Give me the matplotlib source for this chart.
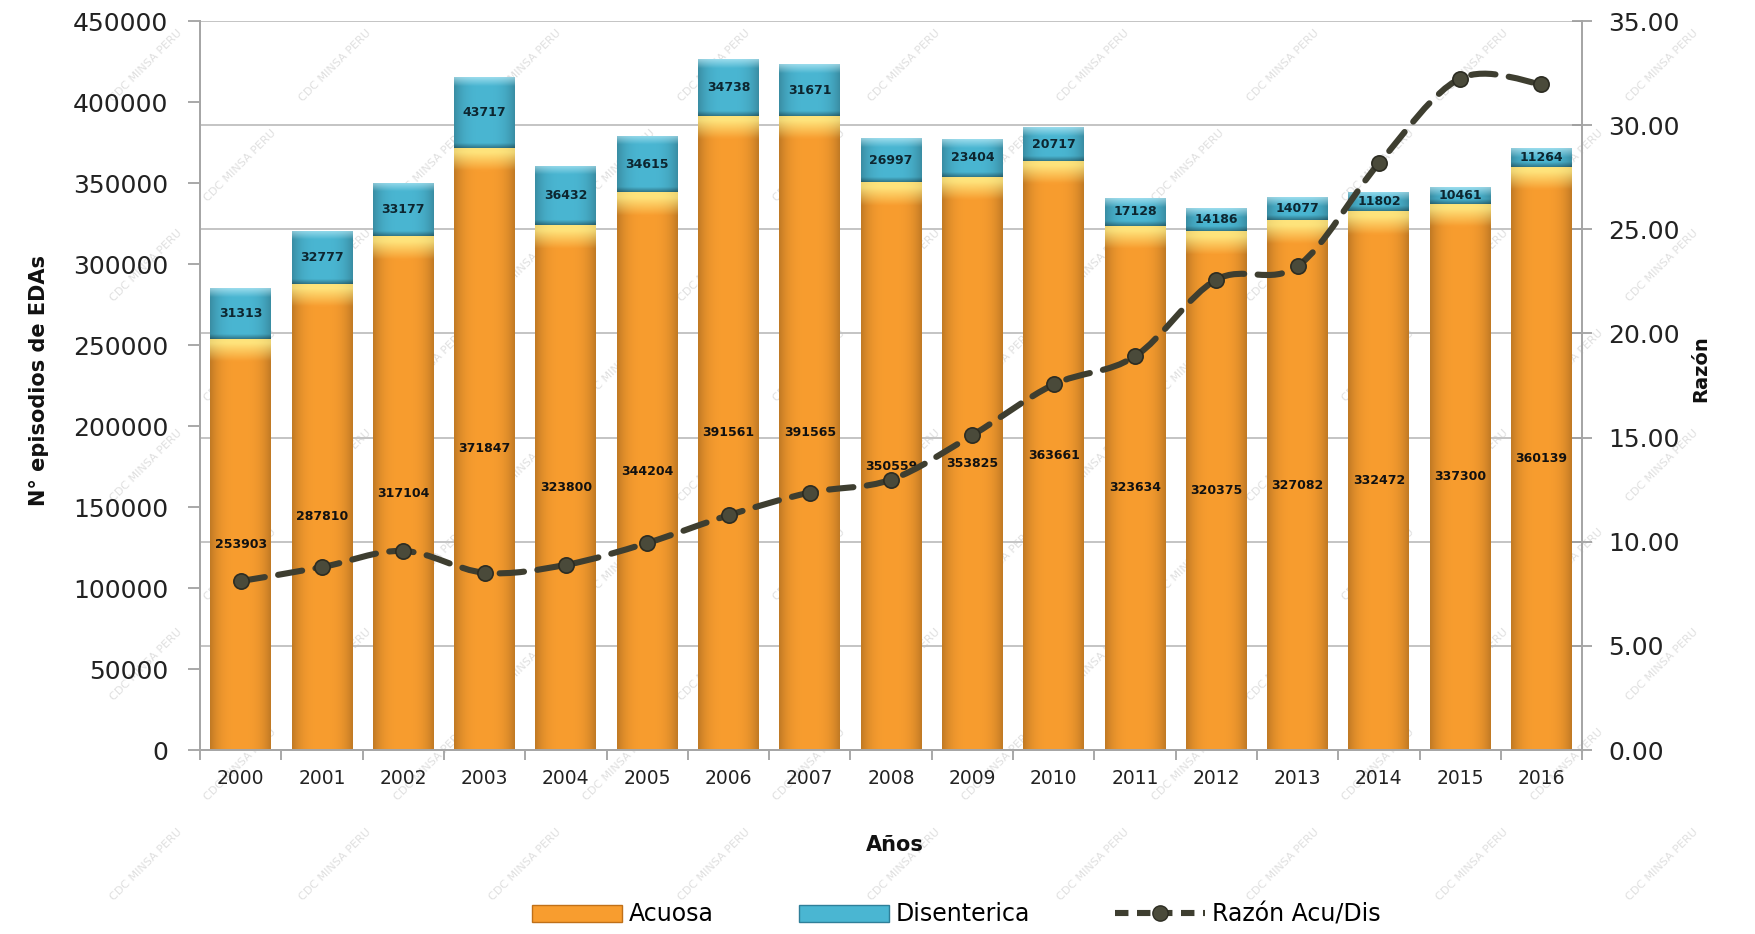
import numpy as np
import matplotlib
matplotlib.use("Agg")
import matplotlib.pyplot as plt
from matplotlib.path import Path
from matplotlib.patches import PathPatch, Patch
from matplotlib.lines import Line2D
from matplotlib.colors import to_rgb

# ---- data ----
years = ["2000", "2001", "2002", "2003", "2004", "2005", "2006", "2007", "2008",
         "2009", "2010", "2011", "2012", "2013", "2014", "2015", "2016"]
acuosa = [253903, 287810, 317104, 371847, 323800, 344204, 391561, 391565, 350559,
          353825, 363661, 323634, 320375, 327082, 332472, 337300, 360139]
disenterica = [31313, 32777, 33177, 43717, 36432, 34615, 34738, 31671, 26997,
               23404, 20717, 17128, 14186, 14077, 11802, 10461, 11264]
razon = [8.11, 8.78, 9.56, 8.51, 8.89, 9.94, 11.27, 12.36, 12.98,
         15.12, 17.55, 18.90, 22.58, 23.23, 28.17, 32.24, 31.97]
left_ticks = list(range(0, 450001, 50000))
right_ticks = [0, 5, 10, 15, 20, 25, 30, 35]

ORANGE = "#F89D2F"
YELLOW = "#FFE47C"
BLUE = "#4AB6D2"
LINE = "#3E3E30"

plt.rcParams["font.family"] = ["DejaVu Sans"]

fig = plt.figure(figsize=(17.55, 9.34), dpi=100)
ax = fig.add_axes([0.114, 0.197, 0.7875, 0.7805])
ax2 = ax.twinx()
ax.set_zorder(1)
ax2.set_zorder(2)
ax.patch.set_visible(False)
ax2.patch.set_visible(False)

x = np.arange(len(years))
width = 0.75

ax.set_xlim(-0.5, len(years) - 0.5)
ax.set_ylim(0, 450000)

bars_a = ax.bar(x, acuosa, width, color=ORANGE, linewidth=0, zorder=3)
bars_d = ax.bar(x, disenterica, width, bottom=acuosa, color=BLUE, linewidth=0, zorder=3)


def shade_bar(patch, base, top_color=None, top_px=14, highlight=None):
    """Overlay a glossy gradient on a bar, clipped to the bar rectangle."""
    x0, y0 = patch.get_x(), patch.get_y()
    w, h = patch.get_width(), patch.get_height()
    nx, ny = 60, 300
    u = np.linspace(-1, 1, nx)
    side = 1.0 - 0.22 * np.abs(u) ** 3
    b = np.array(to_rgb(base))
    img = np.ones((ny, nx, 3)) * b
    img = img * side[None, :, None]
    p0 = ax.transData.transform((x0, y0))
    p1 = ax.transData.transform((x0, y0 + h))
    hpx = max(abs(p1[1] - p0[1]), 1.0)
    rows = np.linspace(1, 0, ny)  # row 0 at top
    dist_px = (1 - rows) * hpx
    if top_color is not None:
        t = np.clip(1.25 - dist_px / top_px, 0, 1)[:, None, None]
        tc = np.array(to_rgb(top_color))
        img = img * (1 - t) + tc * t * side[None, :, None] ** 0.3
    if highlight is not None:
        t = np.clip(1 - dist_px / 9.0, 0, 1)[:, None, None] * 0.6
        hc = np.array(to_rgb(highlight))
        img = img * (1 - t) + hc * t
        tb = np.clip(1 - (hpx - dist_px) / 5.0, 0, 1)[:, None, None] * 0.35
        img = img * (1 - tb)
    im = ax.imshow(np.clip(img, 0, 1), extent=(x0, x0 + w, y0, y0 + h),
                   aspect="auto", zorder=3.5, interpolation="bilinear")
    im.set_clip_path(patch)


for p in bars_a:
    shade_bar(p, ORANGE, top_color=YELLOW, top_px=18)
for p in bars_d:
    shade_bar(p, BLUE, highlight="#D2F6FF")

# data labels
for xi, a, d in zip(x, acuosa, disenterica):
    ax.text(xi, a / 2, f"{a}", ha="center", va="center", fontsize=9,
            fontweight="bold", color="#111111", zorder=6)
    ax.text(xi, a + d / 2, f"{d}", ha="center", va="center", fontsize=9,
            fontweight="bold", color="#0d2630", zorder=6)

ax.set_yticks(left_ticks)
ax.set_yticklabels([str(v) for v in left_ticks])
ax.set_xticks(x)
ax.set_xticklabels(years)
ax.set_xticks(np.arange(-0.5, len(years), 1.0), minor=True)
ax.tick_params(axis="x", which="major", length=0, pad=14, labelsize=13.5, colors="#222222")
ax.tick_params(axis="x", which="minor", length=7, width=1.2, color="#9a9a9a")
ax.tick_params(axis="y", length=9, width=1.2, color="#9a9a9a", pad=14,
               labelsize=18, labelcolor="#222222")

# ratio line on the secondary axis, smoothed with cubic Bezier segments
ax2.set_ylim(0, 35)
ax2.set_yticks(right_ticks)
ax2.set_yticklabels([f"{v:.2f}" for v in right_ticks])
ax2.tick_params(axis="y", direction="inout", length=14, width=1.2, color="#9a9a9a",
                pad=12, labelsize=18, labelcolor="#222222")

# horizontal grid follows the right-hand scale, drawn behind the bars
for v in right_ticks[1:]:
    ax.axhline(v / 35 * 450000, color="#c4c4c4", linewidth=1.4, zorder=0)

pts = np.column_stack([x, razon]).astype(float)
ext = np.vstack([pts[0], pts, pts[-1]])
verts = [tuple(pts[0])]
codes = [Path.MOVETO]
for i in range(len(pts) - 1):
    p0, p1, p2, p3 = ext[i], ext[i + 1], ext[i + 2], ext[i + 3]
    c1 = p1 + (p2 - p0) / 6.0
    c2 = p2 - (p3 - p1) / 6.0
    verts += [tuple(c1), tuple(c2), tuple(p2)]
    codes += [Path.CURVE4] * 3
curve = PathPatch(Path(verts, codes), fill=False, edgecolor=LINE, linewidth=4.4,
                  linestyle=(0, (4, 2.2)), capstyle="round", zorder=5)
ax2.add_patch(curve)
ax2.plot(x, razon, linestyle="none", marker="o", markersize=11,
         markerfacecolor="#4a4a3a", markeredgecolor="#2c2c22",
         markeredgewidth=1.2, zorder=6)

for a_ in (ax, ax2):
    for s in a_.spines.values():
        s.set_color("#a6a6a6")
        s.set_linewidth(1.4)
    a_.spines["top"].set_visible(False)

# axis titles
fig.text(0.022, 0.593, "N° episodios de EDAs", rotation=90, ha="center", va="center",
         fontsize=15, fontweight="bold", color="#111111")
fig.text(0.969, 0.605, "Razón", rotation=90, ha="center", va="center",
         fontsize=14, fontweight="bold", color="#111111")
fig.text(0.51, 0.095, "Años", ha="center", va="center",
         fontsize=15, fontweight="bold", color="#111111")

handles = [
    Patch(facecolor=ORANGE, edgecolor="#c07018", linewidth=1),
    Patch(facecolor=BLUE, edgecolor="#2f7f99", linewidth=1),
    Line2D([0], [0], color=LINE, linewidth=4.4, linestyle=(0, (2.2, 1.4)),
           marker="o", markersize=11, markerfacecolor="#4a4a3a",
           markeredgecolor="#2c2c22"),
]
fig.legend(handles, ["Acuosa", "Disenterica", "Razón Acu/Dis"],
           loc="center", bbox_to_anchor=(0.545, 0.021), ncol=3, frameon=False,
           fontsize=17, handlelength=3.8, handleheight=0.75, handletextpad=0.3,
           columnspacing=3.6)

# repeated watermark behind the chart, kept inside the figure edges
for k in range(9):
    yy = 0.93 - k * 0.107
    off = 0.054 if k % 2 else 0.0
    for j in range(10):
        xx = 0.083 + j * 0.108 + off
        if xx > 0.95 or yy < 0.06:
            continue
        fig.text(xx, yy, "CDC MINSA PERU", rotation=45, ha="center", va="center",
                 fontsize=8, color="#b8b8b8", alpha=0.45, zorder=0)

fig.savefig("out.png", dpi=100)
